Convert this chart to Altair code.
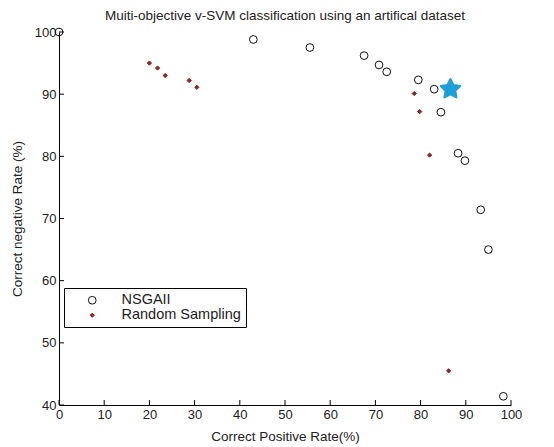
import altair as alt
import pandas as pd

# NSGAII results
nsga_x = [0, 43, 55.5, 67.5, 70.8, 72.5, 79.5, 83, 84.5, 88.3, 89.8, 93.3, 95, 98.3]
nsga_y = [100, 98.8, 97.5, 96.2, 94.7, 93.6, 92.3, 90.8, 87.1, 80.5, 79.3, 71.4, 65, 41.4]
# Random sampling results
rand_x = [20, 21.8, 23.5, 28.8, 30.5, 78.6, 79.8, 82, 86.2]
rand_y = [95, 94.2, 93, 92.2, 91.1, 90.1, 87.2, 80.2, 45.5]
# Highlighted solution (star)
star_x = [86.6]
star_y = [90.8]
# Tick values
x_ticks = [0, 10, 20, 30, 40, 50, 60, 70, 80, 90, 100]
y_ticks = [40, 50, 60, 70, 80, 90, 100]

W, H = 452, 373

df = pd.concat([
    pd.DataFrame({"x": nsga_x, "y": nsga_y, "series": "NSGAII"}),
    pd.DataFrame({"x": rand_x, "y": rand_y, "series": "Random Sampling"}),
])
star_df = pd.DataFrame({"x": star_x, "y": star_y})
xt = pd.DataFrame({"v": x_ticks})
yt = pd.DataFrame({"v": y_ticks})

font = "Liberation Sans"
FS = 13
xscale = alt.Scale(domain=[0, 100], nice=False, zero=False)
yscale = alt.Scale(domain=[40, 100], nice=False, zero=False)

xaxis = alt.Axis(values=x_ticks, ticks=False, grid=False, domainColor="black", labelFlush=False,
                 labelColor="#222", labelFont=font, labelFontSize=FS, labelPadding=3,
                 title="Correct Positive Rate(%)", titleFont=font, titleFontSize=13.5,
                 titleFontWeight="normal", titleColor="#222", titlePadding=8)
yaxis = alt.Axis(values=y_ticks, ticks=False, grid=False, domainColor="black", labelFlush=False,
                 labelColor="#222", labelFont=font, labelFontSize=FS, labelPadding=3,
                 title="Correct negative Rate (%)", titleFont=font, titleFontSize=13.5,
                 titleFontWeight="normal", titleColor="#222", titlePadding=10)

dom = ["NSGAII", "Random Sampling"]
leg = alt.Legend(title=None, orient="none", legendX=5, legendY=256,
                 strokeColor="black", fillColor="white", padding=5,
                 labelFont=font, labelFontSize=14.5, labelColor="#222",
                 rowPadding=0, symbolOffset=16, labelOffset=22,
                 symbolStrokeWidth=1)

pts = alt.Chart(df).mark_point(strokeWidth=1, opacity=1).encode(
    x=alt.X("x:Q", scale=xscale, axis=xaxis),
    y=alt.Y("y:Q", scale=yscale, axis=yaxis),
    shape=alt.Shape("series:N", scale=alt.Scale(domain=dom, range=["circle", "diamond"]), legend=leg),
    stroke=alt.Stroke("series:N", scale=alt.Scale(domain=dom, range=["#111111", "#8b2525"]), legend=leg),
    fill=alt.Fill("series:N", scale=alt.Scale(domain=dom, range=["transparent", "#8b2525"]), legend=leg),
    size=alt.Size("series:N", scale=alt.Scale(domain=dom, range=[60, 18]), legend=leg),
)

star_path = ("M0,-1L0.294,-0.405L0.951,-0.309L0.476,0.155L0.588,0.809L0,0.5"
             "L-0.588,0.809L-0.476,0.155L-0.951,-0.309L-0.294,-0.405Z")
star = alt.Chart(star_df).mark_point(shape=star_path, filled=True, color="#1f9fd9", size=420,
                                     strokeJoin="round", stroke="#1f9fd9", strokeWidth=2,
                                     opacity=1).encode(
    x=alt.X("x:Q", scale=xscale), y=alt.Y("y:Q", scale=yscale))

xtick = alt.Chart(xt).mark_rule(color="black", strokeWidth=1).encode(
    x=alt.X("v:Q", scale=xscale), y=alt.value(H), y2=alt.value(H - 5))
ytick = alt.Chart(yt).mark_rule(color="black", strokeWidth=1).encode(
    y=alt.Y("v:Q", scale=yscale), x=alt.value(0), x2=alt.value(5))

chart = alt.layer(xtick, ytick, pts, star).properties(
    width=W, height=H, background="white",
    padding={"left": 2, "top": 0, "right": 5, "bottom": 5},
    title=alt.TitleParams("Muiti-objective v-SVM classification using an artifical dataset",
                          font=font, fontSize=13.5, fontWeight="normal", color="#222", offset=4),
).configure_view(strokeWidth=0, stroke="transparent")

chart.save("out.html", embed_options={"renderer": "svg", "actions": False})
